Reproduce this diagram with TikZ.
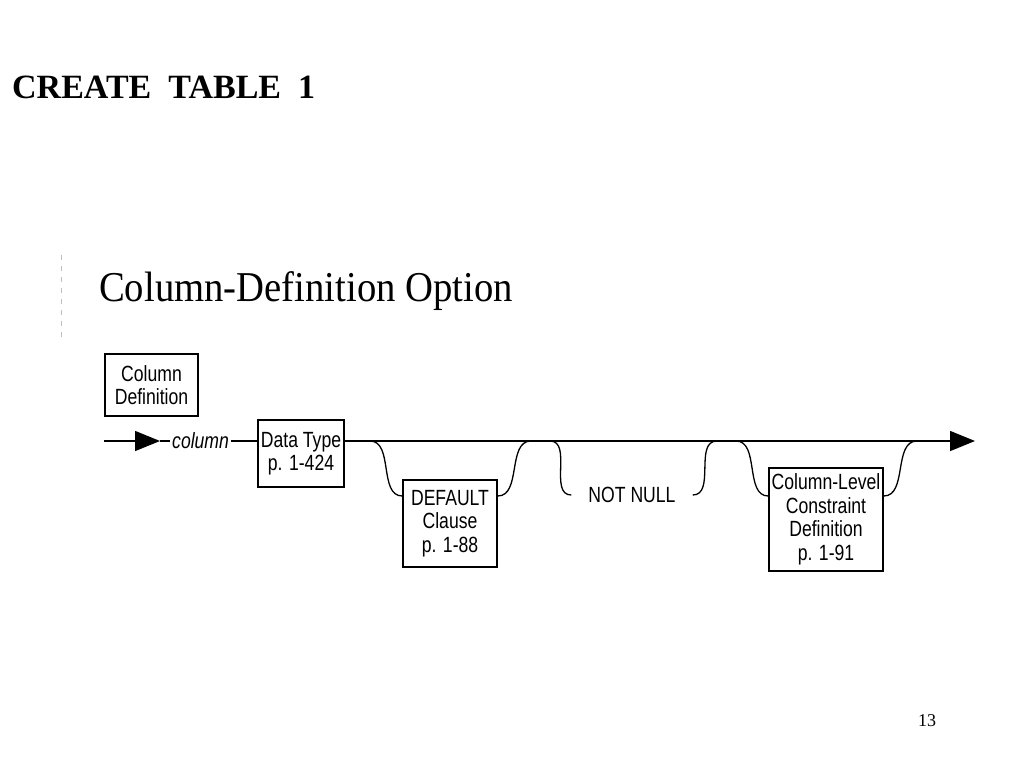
\documentclass[tikz,border=0pt]{standalone}
\usepackage{fontspec}
\setmainfont{Liberation Serif}
\newfontfamily\diagfont[FakeStretch=0.8]{Liberation Sans}
\newfontfamily\headfont[FakeStretch=0.91]{Liberation Serif}
\usetikzlibrary{arrows.meta}
\usetikzlibrary{positioning}

\begin{document}
\begin{tikzpicture}[x=1pt, y=-1pt,
	box/.style={draw, line width=1.5pt, inner sep=0pt, align=center, font=\diagfont\fontsize{22}{23.5}\selectfont},
	lbl/.style={inner sep=2pt, font=\diagfont\fontsize{22}{23.5}\selectfont},
	rail/.style={line width=1.5pt},
	bypass/.style={line width=1.3pt},
	tip/.style={-{Triangle[length=25pt,width=20pt]}}]
	\useasboundingbox (0,0) rectangle (1024,768);
	\node[anchor=base west, inner sep=0pt, font=\bfseries\fontsize{34}{40}\selectfont] (title) at (12,98) {CREATE\ \ TABLE\ \ 1};
	\draw[gray!50, line width=0.8pt, dash pattern=on 5pt off 6pt] (61,255) -- (61,340);
	\node[anchor=base west, inner sep=0pt, font=\headfont\fontsize{42.5}{50}\selectfont] (head) at (99,301) {Column-Definition Option};
	\node[box, minimum width=93pt, minimum height=62pt] (coldef) at (151.5,385) {Column\\Definition};
	\coordinate (in) at (104,441);
	\coordinate (inarr) at (160,441);
	\coordinate (low) at (0,496);
	\coordinate (out) at (975,441);
	\node[lbl, right=10pt of inarr, font=\diagfont\itshape\fontsize{22}{23.5}\selectfont] (col) {column};
	\node[box, minimum width=86pt, minimum height=67pt] (dtype) at (301,453.5) {Data Type\\p. 1-424};
	\node[box, minimum width=94pt, minimum height=87pt] (dflt) at (450,523.5) {DEFAULT\\Clause\\p. 1-88};
	\node[lbl, inner xsep=17pt] (nnull) at (632,495) {NOT NULL};
	\node[box, minimum width=114pt, minimum height=103pt] (clc) at (826,519.5) {Column-Level\\Constraint\\Definition\\p. 1-91};
	\node[anchor=base, inner sep=0pt, font=\fontsize{18}{22}\selectfont] (pnum) at (927,726) {13};
	\foreach \n/\x in {j1/370, j2/531, j3/550, j4/717, j5/736, j6/917}
		\coordinate (\n) at (\x,441);

	\draw[rail, tip] (in) -- (inarr);
	\draw[rail] (inarr) -- (col);
	\draw[rail] (col) -- (dtype.west |- in);
	\draw[rail, tip] (dtype.east |- in) -- (out);
	\path[bypass]
	(j1) edge[out=0, in=180, looseness=0.95] (dflt.west |- low)
	(dflt.east |- low) edge[out=0, in=180, looseness=0.95] (j2)
	(j3) edge[out=0, in=180, looseness=1] (nnull.west)
	(nnull.east) edge[out=0, in=180, looseness=1] (j4)
	(j5) edge[out=0, in=180, looseness=0.95] (clc.west |- low)
	(clc.east |- low) edge[out=0, in=180, looseness=0.95] (j6)
	;
\end{tikzpicture}
\end{document}
